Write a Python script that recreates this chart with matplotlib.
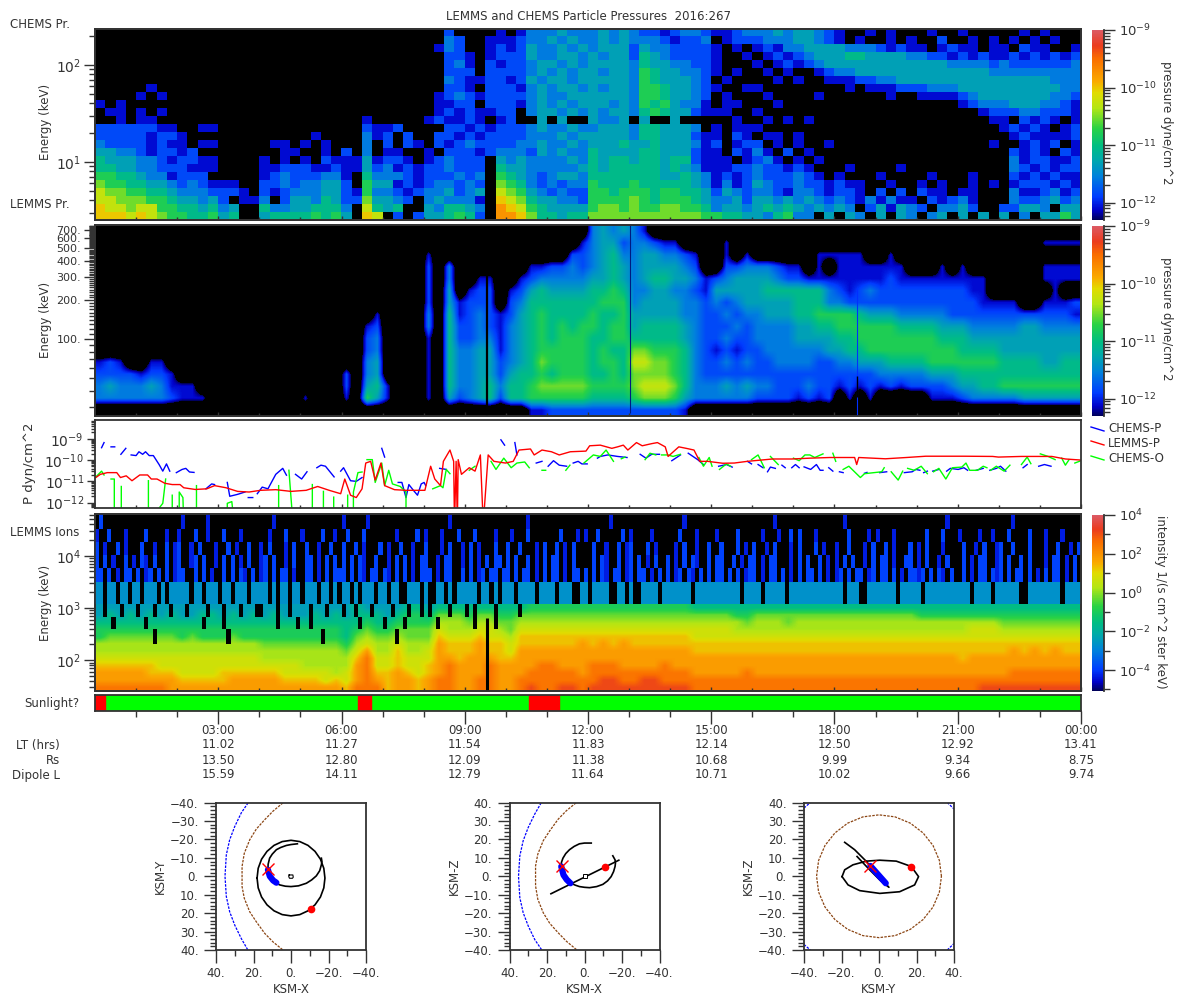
import numpy as np
import matplotlib
matplotlib.use("Agg")
import matplotlib.pyplot as plt
from matplotlib.cm import ScalarMappable
from matplotlib.colors import LinearSegmentedColormap, LogNorm, Normalize
from matplotlib.lines import Line2D
from matplotlib.ticker import FixedLocator, LogFormatterMathtext, LogLocator, NullFormatter

nan = float("nan")

# CHEMS pressure, digit levels, four columns per hour, rows from high energy to low
chems_rows = [
    "0000 0000 0000 0000 0000 0000 0000 0000 0020 0001 0133 3433 3434 3221 2332 1123 3343 4432 1001 0100 0100 1000 0010 1000",
    "0000 0000 0000 0000 0000 0000 0000 0000 0032 0011 1233 4343 3434 3332 1223 0122 2333 4432 1010 0101 0020 0101 0101 0100",
    "0000 0000 0000 0000 0000 0000 0000 0000 0132 0012 1243 3434 3444 2433 2222 1010 1213 3444 4333 2121 1012 1101 1021 1001",
    "0000 0000 0000 0000 0000 0000 0000 0000 0022 1012 2243 3443 4344 2543 2222 1001 0121 2344 4554 4443 3221 2121 1212 1212",
    "0000 0000 0000 0000 0000 0000 0000 0000 0023 1021 2234 4343 4444 3544 3322 1000 1012 1234 4444 4444 4443 3332 3222 2223",
    "0000 0000 0000 0000 0000 0000 0000 0000 0022 2022 2234 3434 4344 3654 4332 1010 0101 0012 3344 4444 4444 4443 3333 3333",
    "0000 0000 0000 0000 0000 0000 0000 0000 0032 1122 1243 4434 4444 3654 4432 0100 0010 1001 1122 3344 4444 4444 4444 4333",
    "0000 0100 0000 0000 0000 0000 0000 0000 0022 1022 2134 3443 4344 3665 4432 1001 1000 0000 0101 1122 2333 4444 4444 4433",
    "0000 1010 0000 0000 0000 0000 0000 0000 0123 2122 2234 3344 4444 3665 4432 0100 0100 0010 0000 0100 1111 2344 4444 4332",
    "1010 0000 0000 0000 0000 0000 0000 0000 0112 2022 2134 3434 4434 3656 4331 0110 0010 0000 0000 0000 0000 1233 3444 3321",
    "0110 1010 0000 0000 0000 0000 0000 0000 0121 2112 2034 4343 4344 3565 4421 1100 1000 0000 0000 0000 0000 0012 2233 2221",
    "0010 1100 0000 0000 0000 0000 0010 0000 1211 2101 2004 0400 4334 0400 4000 0010 0101 0100 0000 0000 0000 0001 1021 2101",
    "2222 2211 0011 0000 0000 0000 0021 1200 0022 1212 2234 3343 3444 3554 4430 1011 1000 0000 0000 0000 0000 0000 1212 1012",
    "2222 2122 1000 0000 0000 0100 0031 2020 0221 2122 2233 3434 4444 3554 4421 1021 0110 1000 0000 0000 0000 0000 0121 1112",
    "3222 2121 1011 0000 0110 1010 0030 2021 0212 3222 2334 3343 4445 4454 4431 2012 2010 1001 0000 0000 0000 0001 0012 1201",
    "4433 2122 1200 0000 0011 0010 2030 1100 1022 2123 3324 3433 5444 4554 4421 1021 3102 0100 0000 0000 0000 0000 0212 1021",
    "5444 3321 2211 0000 1010 1021 1141 2210 1232 2204 3433 3343 5455 4554 5521 1101 2310 1010 0000 0000 0000 0000 0312 2112",
    "5544 3322 2111 0000 1122 2112 1142 3121 2232 2205 4433 3334 5455 5554 5431 1122 3221 2100 0100 0010 0000 0000 0321 2122",
    "6655 4331 2220 0000 1232 2233 1053 3321 2223 2306 5432 3443 5555 5554 4543 1212 3222 3210 1000 1000 0100 0100 0212 1211",
    "7665 5443 2321 1100 2232 3344 2064 4121 2332 3207 6532 3233 6555 6555 5543 1312 4322 3221 2110 0100 1010 0101 0122 2121",
    "8776 6554 3332 2210 2123 3344 2163 3212 3342 3408 7643 2322 6656 6656 6554 2432 3321 3321 2210 2020 2110 1100 0311 2312",
    "8877 7665 4434 2011 3024 4354 2274 4320 3433 3109 8754 4332 6666 7656 6654 3342 4434 3432 3213 1311 0212 3100 0322 3423",
    "9887 8866 5545 3400 5334 4555 3085 4500 4355 430a 9865 4444 6776 7667 7665 3443 4545 4343 4302 4143 2033 4200 2244 3044",
    "9998 9876 6556 4500 4555 5656 4098 0202 4456 520a a975 5455 7777 7777 7776 6554 4356 3304 0430 4043 0340 4040 4030 4464",
]

# LEMMS pressure, four columns per hour
lemms_rows = [
    "0000 0000 0000 0000 0000 0000 0000 0000 0000 0000 0000 0000 3434 3100 0000 0000 0000 0000 0000 0000 0000 0000 0000 0000",
    "0000 0000 0000 0000 0000 0000 0000 0000 0000 0000 0000 0001 3442 3321 1000 0100 0000 0000 0000 0000 0000 0000 0000 1111",
    "0000 0000 0000 0000 0000 0000 0000 0000 1000 0000 0000 0022 3453 3443 3210 0101 0000 0011 1110 0100 0000 0000 0000 0000",
    "0000 0000 0000 0000 0000 0000 0000 0000 2030 0000 0011 2232 3454 3444 4320 0223 3321 1010 1111 1110 0010 1000 0000 1111",
    "0000 0000 0000 0000 0000 0000 0000 0000 2030 0110 0123 3333 4454 3455 4431 2344 4432 2111 1111 1211 1111 1110 0000 1111",
    "0000 0000 0000 0000 0000 0000 0000 0000 2040 1220 1245 4444 5565 3344 3321 4444 4555 5553 2123 2222 2222 2110 0000 0100",
    "0000 0000 0000 0000 0000 0000 0000 0000 2041 2220 2355 5555 5666 3444 4332 3234 4444 5553 3222 2222 2222 2211 1100 1112",
    "0000 0000 0000 0000 0000 0000 0001 0000 3051 2321 2456 5555 6556 4444 4332 2323 3444 5566 6654 4433 3332 2222 2222 2221",
    "0000 0000 0000 0000 0000 0000 0012 0000 3052 2321 3456 5656 6566 4555 5432 2232 3333 4455 6666 6655 5544 4333 3344 3333",
    "0000 0000 0000 0000 0000 0000 0023 0000 1052 2331 3456 5666 5566 5555 5432 2322 3333 4444 5566 6666 6655 5444 4444 4444",
    "0000 0000 0000 0000 0000 0000 0023 0000 1053 3441 3456 6666 5655 7766 6532 1212 2333 3334 4556 6666 6666 5555 4444 4444",
    "1210 0110 0000 0000 0000 0000 0034 0000 1053 3442 3457 6666 5665 8877 6532 2323 2233 3322 3344 4555 5666 6666 5555 4455",
    "2222 1221 0000 0000 0000 0000 2034 0000 1053 3442 4556 5666 5565 7777 6532 2222 2222 2222 2222 3333 3444 5555 5555 5555",
    "3433 3431 1100 0000 0000 0000 2045 1000 1053 3453 5567 7777 6666 7888 7533 3434 3322 2322 1212 1212 2223 4455 6666 6666",
    "3333 3332 1110 0000 0000 1000 1064 1000 1042 3452 5566 6666 5555 6777 6433 3333 2222 1212 0101 0000 0111 2333 3344 4444",
    "0000 0000 0000 0000 0000 0000 0000 0000 0000 0000 0011 2222 2222 2222 2100 0000 0000 0000 0000 0000 0000 0000 0000 0000",
]

# LEMMS ions below 1 MeV, four columns per hour
ion_rows = [
    "1111 1111 1111 1111 1111 1111 1211 1122 1222 2222 2233 3333 3333 3333 3322 2222 2222 2222 2222 2222 2222 2222 2222 2222",
    "1212 1212 1122 1212 1211 1212 1222 1233 2444 3443 3444 4444 4444 4444 4444 4433 4444 4444 4444 4444 3333 3333 3333 3333",
    "2222 2222 2222 2222 2222 2222 2232 2333 3555 4554 4555 5555 5555 5555 5555 5554 5554 5555 5555 5555 5555 5555 4444 4444",
    "3333 3333 3333 3333 3333 3333 2343 3444 4655 5665 4666 6666 6666 6666 6666 6655 5555 5555 5555 5555 5555 5666 5555 5555",
    "3444 4444 3433 3433 3333 3333 2454 4544 4766 6766 5777 7777 7777 7777 7766 6666 6666 6666 6666 6666 6666 6666 6666 6666",
    "5555 5555 5555 5555 4444 4444 3565 5655 5877 7877 6777 7778 7878 7777 7777 7777 7777 7777 7777 7777 7777 7777 7777 7777",
    "5555 5555 5555 5555 5555 5555 4685 5755 6877 7877 6888 8888 8888 8888 8877 7777 7777 7777 7777 7777 7777 7777 7878 7877",
    "6666 6666 6666 6666 5555 5555 5796 6766 6887 8887 7888 8888 8888 8888 8888 8888 8888 8888 8888 8888 8888 7888 8888 8888",
    "7777 7766 6666 6666 6666 5555 5896 6766 7898 8898 8889 9888 9998 8889 8888 8888 8888 8888 8888 8888 8888 8888 8888 8888",
    "8888 8777 6666 7777 7766 6665 6897 7876 7898 8898 8899 9998 9999 9999 9988 8889 8888 8888 8888 8888 8888 8888 8999 9999",
    "8888 8888 7777 7888 8877 7767 6898 7887 8998 8998 8999 9999 9aa9 9aa9 9999 9999 9999 9999 9999 9999 9999 9999 9999 9999",
    "9999 9998 8888 8888 8888 8888 7999 7887 8998 8998 89a9 9aa9 aaaa aaaa aa99 9999 9999 9999 9999 9999 9999 99aa aaaa aaaa",
]

# ion spikes above 1 MeV and black notches, ten columns per hour ('.' = nothing drawn)
spike_rows = [
    ".2........ .......... .1.....1.. .......... ...1...... .......... 1.....1... .......... ......1... .......... .....1.... .......... .....1.... .......... ...1...... .......... .....1.... .......... ..1....... .......... .......1.. .......... ...1...... ..........",
    "1..2...1.. ..2....1.. 1...2..1.. .2...1.... ..1...2... 1....2..1. .2...2.... ...1....2. 1...1...2. ..2....1.. .1...2.... ...2...1.1 ..2.....2. 1....1.... ..2...1... .1....2... ..1...1..2 .2...1.... ...2....1. 1...1..... ..2...2... 1....1..1. ..2....2.. .1...1....",
    "2.1..2.1.. .2..1..2.1 2..1.2...1 ..2.1..2.. 1.2...1.2. .2..1..2.. 2..2.1...2 .1..2..1.. 2...1.2..1 .2.1...2.. 2..2...1.2 ..2.1.2... .2..1..2.1 2...2.1... .1.2..1..2 ..2...2.1. 2..1.2...1 .2...2.1.. 1..2...1.2 ..2.1...2. 1.2...1... .2..1.2..1 2..2...2.. .1..2..1.2",
    "2.2.1..2.1 .21.2..2.1 2..12.2..1 .2.2.1.2.. 12.2..1.2. .22.1.2.2. 2.2.21..2. .1.2.2.1.2 2..1.22..1 .2.1.2.22. 2.2..2.1.2 .22.1.2... .2.21..2.1 2.2.1.2..2 .1.2.21..2 .22..2.1.2 2.1.22...1 .2.2..2.1. 1.2.2..1.2 .22.1..22. 1.2..1.2.. .2.1.22..1 2.2..2.2.. .1.22.1.2.",
    "22.2.1.22. 2.12.2.2.1 22..2.2.1. .2.2.21.2. 12.2.22.1. .22.1.2.22 2.2.21.22. 21.2.2.1.2 22.1.22..2 .2.12.22.2 2.2.22.1.2 .22.1.22.2 .2.21.22.1 2.22.1.2.2 .12.21.2.2 .22.2.2.12 2.1.22.2.1 .2.22.2.1. 12.2.22.12 .22.2.1.22 12.2.21.2. .2.1.22.21 2.2.22.2.1 .2.22.1.2.",
    "33.33.33.3 3.333.3.33 333.33.333 .33.333.33 33.3.33.33 .333.33.3. 33.3.333.3 3.33..333. 3..33.3.33 333.33.3.3 33.3333.33 33.333..33 .3333..33. 3..3333.33 33333.3333 3333333.33 33.33333.3 3333333333 33.333..33 33333.3333 3.33333333 333.3333.3 33333..333 33333.3333",
    "..0...0... 0...0...0. ..0....0.. .0...0...0 0...0..0.. ..0...0... 0..0...0.. ..0...0..0 .0....0... 0.0....0.. ...0...... .......... .......... .......... .......... .......... .......... .......... .......... .......... .......... .......... .......... ..........",
    "....0..... ..0....... ......0... .0........ ....0....0 ..0....... ....0..... 0....0.... ...0...... ..0....0.. .......... .......... .......... .......... .......... .......... .......... .......... .......... .......... .......... .......... .......... ..........",
    ".......... ....0..... .......... ..0....... .......... .....0.... .......... ...0...... .......... .......... .......... .......... .......... .......... .......... .......... .......... .......... .......... .......... .......... .......... .......... ..........",
]
spike_edges_kev = [200, 390, 660, 1170, 3200, 5900, 10400, 18500, 32000, 63000]

chems_levels = [-13, -12.09, -11.83, -11.57, -11.31, -11.05, -10.79, -10.53, -10.27, -10.01, -9.75]
ion_levels = [-9, -2.4, -1.6, -1.0, -0.3, 0.2, 0.7, 1.3, 1.8, 2.5, 3.1]
spike_levels = [-99, -4.3, -3.9, -2.7]

# particle pressures, hours and log10 dyn/cm^2
red_hours = [0.02, 0.13, 0.30, 0.53, 0.62, 0.76, 0.90, 1.09, 1.28, 1.37, 1.51, 1.70, 1.88, 2.07, 2.16, 2.44, 2.72,
             2.91, 3.19, 3.47, 3.75, 4.03, 4.40, 4.77, 5.14, 5.42, 5.70, 5.98, 6.08, 6.22, 6.36, 6.50, 6.59, 6.71,
             6.82, 6.96, 7.05, 7.29, 7.57, 7.80, 8.03, 8.17, 8.27, 8.41, 8.48, 8.64, 8.73, 8.75, 8.79, 8.82, 8.84,
             8.92, 9.11, 9.25, 9.38, 9.45, 9.57, 9.71, 9.99, 10.18, 10.32, 10.60, 10.69, 10.88, 11.11, 11.30, 11.57,
             11.95, 12.04, 12.30, 12.58, 12.72, 12.86, 12.97, 13.18, 13.32, 13.55, 13.69, 13.88, 13.95, 14.21, 14.39,
             14.58, 14.72, 14.91, 15.28, 15.56, 15.88, 16.49, 16.96, 17.42, 17.89, 18.49, 18.54, 18.59, 19.24, 19.75,
             20.22, 21.15, 21.85, 21.99, 22.55, 23.29, 23.62, 24.0]
red_logp = [-10.82, -10.67, -10.59, -10.59, -10.82, -10.74, -10.97, -10.70, -10.70, -10.89, -10.89, -11.09, -11.15,
            -11.15, -11.30, -11.38, -11.35, -11.20, -11.30, -11.47, -11.50, -11.42, -11.39, -11.47, -11.42, -11.24,
            -11.42, -11.58, -10.89, -11.65, -11.76, -11.35, -10.14, -10.06, -10.94, -10.14, -11.20, -11.39, -11.42,
            -11.42, -11.42, -10.29, -10.89, -11.20, -10.06, -9.53, -10.06, -13, -10.06, -13, -9.98, -10.67, -10.36,
            -10.52, -9.76, -13, -9.76, -10.06, -10.14, -10.06, -9.53, -9.48, -9.76, -9.53, -9.61, -9.76, -9.61, -9.58,
            -9.33, -9.30, -9.45, -9.38, -9.30, -9.53, -9.18, -9.33, -9.23, -9.18, -9.38, -9.83, -9.38, -9.45, -9.53,
            -10.06, -10.06, -10.15, -10.14, -10.06, -9.95, -9.95, -9.91, -9.88, -9.88, -10.21, -9.88, -9.94, -9.88,
            -9.82, -9.82, -9.83, -9.86, -9.83, -9.83, -9.95, -10.0]

blue_hours = [0.16, 0.22, nan, 0.39, 0.48, nan, 0.63, 0.75, nan, 0.88, 1.0, 1.07, 1.16, 1.23, 1.32, 1.42, 1.56, 1.65,
              1.74, 1.82, nan, 1.98, 2.12, 2.21, 2.30, 2.41, nan, 2.70, 2.84, 2.91, nan, 3.22, 3.28, 3.47, 3.65, nan,
              3.73, 3.84, nan, 3.95, 4.07, 4.21, 4.40, 4.57, 4.66, nan, 4.88, 5.03, 5.16, nan, 5.40, 5.50, 5.61, 5.82,
              nan, 5.98, 6.05, 6.22, 6.36, 6.50, nan, 6.98, 7.05, nan, 7.38, 7.47, 7.57, 7.64, 7.75, 7.85, 7.94, 8.01,
              8.05, nan, 8.39, 8.55, nan, 9.88, 9.97, nan, 10.22, 10.27, nan, 10.74, 10.88, nan, 11.03, 11.16, 11.30,
              11.48, nan, 11.64, 11.76, 11.85, 11.98, nan, 12.23, 12.30, 12.48, 12.72, 12.95, nan, 13.27, 13.41, 13.55,
              13.74, nan, 14.04, 14.25, nan, 14.44, 14.67, 14.81, nan, 15.18, 15.37, 15.51, nan, 15.88, 15.98, nan,
              16.14, 16.26, nan, 16.37, 16.44, 16.56, nan, 16.72, 16.80, nan, 16.96, 17.05, 17.14, nan, 17.26, 17.42,
              17.56, 17.65, 17.72, nan, 17.86, 17.96, nan, 18.12, 18.21, nan, 18.73, 18.79, nan, 19.10, 19.27, nan,
              19.70, 19.89, 19.98, 20.08, nan, 20.17, 20.26, nan, 20.39, 20.54, nan, 20.73, 20.82, 21.01, 21.15, 21.24,
              nan, 21.45, 21.62, nan, 21.78, 21.94, 22.04, 22.17, nan, 22.59, 22.69, nan, 22.97, 23.11, 23.27]
blue_logp = [-9.42, -9.18, nan, -9.38, -9.38, nan, -9.73, -9.45, nan, -9.76, -9.79, -9.61, -9.73, -9.61, -9.79, -9.79,
             -10.21, -10.52, -10.18, -10.52, nan, -10.59, -10.44, -10.39, -10.56, -10.58, nan, -11.35, -11.12, -11.15,
             nan, -11.05, -11.70, -11.61, -11.50, nan, -11.76, -11.76, nan, -11.58, -11.27, -11.35, -10.67, -10.39,
             -10.71, nan, -10.67, -10.89, -10.55, nan, -10.36, -10.24, -10.29, -10.79, nan, -10.52, -10.36, -10.97,
             -11.0, -10.82, nan, -9.45, -9.86, nan, -11.05, -11.05, -11.76, -11.15, -11.42, -11.65, -11.12, -11.05,
             -11.20, nan, -10.39, -10.44, nan, -9.05, -9.30, nan, -9.18, -9.76, nan, -10.14, -10.06, nan, -10.29,
             -10.03, -10.24, -10.29, nan, -10.14, -10.06, -10.18, -10.18, nan, -9.91, -9.83, -9.76, -9.83, -9.88, nan,
             -9.73, -9.91, -9.73, -9.73, nan, -10.03, -9.76, nan, -9.68, -9.98, -10.21, nan, -10.29, -10.21, -10.33,
             nan, -10.06, -10.18, nan, -10.21, -10.36, nan, -10.55, -10.33, -10.39, nan, -10.24, -10.36, nan, -10.36,
             -10.21, -10.36, nan, -10.32, -10.44, -10.21, -10.48, -10.48, nan, -10.36, -10.52, nan, -10.55, -10.59,
             nan, -10.62, -10.58, nan, -10.59, -10.55, nan, -10.59, -10.55, -10.44, -10.48, nan, -10.59, -10.52, nan,
             -10.52, -10.44, nan, -10.52, -10.39, -10.44, -10.36, -10.48, nan, -10.48, -10.39, nan, -10.48, -10.39,
             -10.29, -10.52, nan, -10.36, -10.21, nan, -10.29, -10.21, -10.29]

green_hours = [0.02, 0.16, 0.22, nan, 0.39, 0.47, 0.47, nan, 0.64, 0.64, nan, 1.30, 1.30, nan, 1.57, 1.65, 1.72, nan,
               1.88, 1.88, nan, 2.05, 2.05, 2.14, 2.16, nan, 2.47, 2.47, nan, 3.22, 3.22, 3.33, 3.39, nan, 4.47, 4.47,
               nan, 4.72, 4.82, nan, 5.29, 5.29, nan, 5.56, 5.56, nan, 5.81, 5.81, nan, 6.15, 6.15, nan, 6.29, 6.29,
               6.40, 6.50, nan, 6.62, 6.75, 6.82, 6.98, 7.05, 7.15, 7.24, 7.43, 7.57, 7.57, nan, 8.22, 8.41, 8.47, 8.55,
               8.64, nan, 9.11, 9.25, nan, 9.64, 9.76, 9.95, 10.13, 10.27, 10.46, 10.57, nan, 10.88, 10.97, nan, 11.46,
               11.56, nan, 11.90, 12.13, 12.30, 12.44, 12.62, nan, 12.81, 12.90, nan, 13.39, 13.51, 13.65, nan, 13.79,
               13.95, 14.07, 14.25, nan, 14.70, 14.81, 14.95, 15.02, nan, 15.20, 15.37, 15.47, nan, 15.98, 16.14, 16.29,
               nan, 16.44, 16.63, nan, 17.0, 17.14, 17.28, 17.40, 17.52, 17.72, nan, 17.96, 18.03, nan, 18.21, 18.35,
               18.63, 18.73, 19.15, 19.21, nan, 19.38, 19.55, 19.66, nan, 19.78, 19.94, 20.11, 20.26, nan, 20.41, 20.54,
               20.71, 20.87, 21.10, 21.20, 21.29, 21.48, 21.62, 21.71, nan, 21.80, 21.94, 22.13, 22.27, nan, 22.55,
               22.69, 22.78, nan, 23.01, 23.20, 23.37, nan, 23.53, 23.62, 23.71, nan, 23.85, 24.0]
green_logp = [-10.79, -10.52, -10.70, nan, -10.89, -10.89, -13, nan, -11.24, -13, nan, -10.97, -13, nan, -12.23, -12.03,
              -10.89, nan, -11.65, -13, nan, -13, -11.50, -11.76, -13, nan, -11.20, -13, nan, -13, -12.03, -11.95, -13,
              nan, -11.20, -13, nan, -10.48, -13, nan, -11.15, -13, nan, -11.47, -13, nan, -11.74, -13, nan, -11.65,
              -13, nan, -13, -11.50, -10.59, -10.56, nan, -9.98, -9.98, -11.05, -10.14, -11.20, -10.48, -11.12, -11.24,
              -11.50, -13, nan, -11.35, -11.20, -11.30, -10.44, -10.64, nan, -10.48, -10.29, nan, -10.06, -10.44, -9.91,
              -10.36, -10.14, -10.09, -10.36, nan, -10.48, -10.48, nan, -10.48, -10.24, nan, -10.14, -9.76, -9.83,
              -9.53, -10.06, nan, -9.94, -9.86, nan, -9.98, -9.68, -9.76, nan, -9.76, -9.76, -9.83, -9.73, nan, -9.88,
              -10.29, -9.88, -10.29, nan, -10.44, -10.18, -10.29, nan, -9.98, -9.76, -10.36, nan, -9.83, -10.21, nan,
              -9.91, -10.03, -9.76, -9.76, -9.88, -9.71, nan, -9.68, -10.06, nan, -10.44, -10.29, -10.82, -10.64,
              -10.55, -10.36, nan, -10.55, -10.94, -10.52, nan, -10.39, -10.48, -10.29, -10.64, nan, -10.55, -10.39,
              -10.89, -10.36, -10.33, -10.14, -10.48, -10.48, -10.29, -10.36, nan, -10.48, -10.29, -10.52, -10.24, nan,
              -10.21, -9.86, -10.17, nan, -9.71, -9.83, -9.98, nan, -9.91, -10.24, -9.98, nan, -10.14, -10.03]

# sunlight bar: eclipse intervals in hours
eclipse_start = [0.0, 6.40, 10.57]
eclipse_end = [0.24, 6.72, 11.30]

time_labels = ["03:00", "06:00", "09:00", "12:00", "15:00", "18:00", "21:00", "00:00"]
time_hours = [3, 6, 9, 12, 15, 18, 21, 24]
lt_values = ["11.02", "11.27", "11.54", "11.83", "12.14", "12.50", "12.92", "13.41"]
rs_values = ["13.50", "12.80", "12.09", "11.38", "10.68", "9.99", "9.34", "8.75"]
dipole_values = ["15.59", "14.11", "12.79", "11.64", "10.71", "10.02", "9.66", "9.74"]

# orbit projections, Rs
bow_shock_a = [22.9, 26.5, 30.0, 32.7, 34.5, 35.2, 34.5, 32.7, 30.0, 26.5, 22.9]
bow_shock_b = [-39.8, -34.4, -27.0, -19.8, -11.6, 0, 11.0, 19.3, 26.5, 33.8, 40.2]
magnetopause_a = [4.3, 9.6, 14.0, 18.5, 22.0, 24.9, 26.1, 26.1, 26.1, 24.9, 22.0, 18.5, 14.0, 9.6, 4.3]
magnetopause_b = [-39.8, -35.3, -30.7, -25.6, -19.8, -12.5, -5.3, 0, 5.6, 12.0, 19.3, 24.7, 31.0, 35.6, 40.0]

outer_x = [18.1, 17.5, 15.7, 12.8, 9.05, 4.7, 0, -4.7, -9.05, -12.8, -15.7, -17.5, -18.1, -17.5, -15.7, -12.8, -9.05,
           -4.7, 0, 4.7, 9.05, 12.8, 15.7, 17.5, 18.1]
outer_y = [1.0, 6.3, 11.25, 15.5, 18.75, 20.8, 21.5, 20.8, 18.75, 15.5, 11.25, 6.3, 1.0, -4.3, -9.25, -13.5, -16.75,
           -18.8, -19.5, -18.8, -16.75, -13.5, -9.25, -4.3, 1.0]
inner_x = [-3.4, 0, 2.5, 5.5, 7.8, 10.0, 11.4, 12.2, 12.3, 11.8, 11.0, 9.0, 6.0, 3.0, 0, -4.0, -8.2, -11.0, -13.5,
           -15.3, -16.2, -16.5, -16.2]
inner_y = [-17.6, -17.2, -16.7, -15.6, -14.4, -12.0, -9.8, -6.5, -3.5, -1.0, 1.1, 3.2, 4.7, 5.4, 5.6, 5.2, 3.8, 2.0,
           -0.2, -3.0, -6.2, -8.0, -9.8]
core_x = [1.0, -1.0, -1.2, -0.8, 0.8, 1.2, 1.0]
core_y = [-0.7, -0.7, 0.5, 1.1, 1.1, 0.2, -0.7]
track_xy_x = [12.3, 11.3, 9.5, 7.8]
track_xy_y = [-3.5, 0.0, 2.3, 3.5]

xz_arc_x = [-3.6, 0, 2.7, 5.5, 8.0, 10.0, 11.5, 12.3, 12.4, 12.1, 11.2, 9.5, 7.1, 5.0, 2.7, 0, -2.7, -6.5, -9.8, -12.3,
            -14.2, -15.5, -16.3, -16.5, -16.3, -15.1]
xz_arc_z = [18.0, 18.0, 17.6, 16.2, 14.4, 12.3, 9.8, 7.5, 5.3, 3.0, 0.7, -1.8, -3.8, -4.8, -5.6, -6.0, -6.2, -5.6, -4.4,
            -2.5, -0.2, 2.5, 5.3, 7.0, 8.9, 11.1]
xz_line_x = [17.9, -18.3]
xz_line_z = [-9.5, 8.7]
track_xz_x = [12.4, 11.2, 9.5, 7.5]
track_xz_z = [5.3, 0.7, -1.8, -3.8]

yz_ring_y = [-19.7, -18.3, -13.9, -6.7, 0.4, 9.2, 17.2, 21.1, 19.0, 11.0, 0.4, -10.3, -16.5, -19.7]
yz_ring_z = [-0.2, 3.5, 6.2, 8.2, 8.7, 8.2, 5.3, -0.2, -4.7, -8.4, -9.3, -7.8, -4.7, -0.2]
yz_loop_y = [-18.3, -13.0, -6.7, -1.4, 5.3, 0.4, -5.0, -11.7]
yz_loop_z = [18.4, 14.4, 8.0, 1.6, -6.0, -2.0, 3.5, 10.7]
track_yz_y = [-4.6, 3.6]
track_yz_z = [5.6, -3.8]
yz_circle_y = [33.3, 32.2, 28.8, 23.5, 16.7, 8.6, 0, -8.6, -16.7, -23.5, -28.8, -32.2, -33.3, -32.2, -28.8, -23.5,
               -16.7, -8.6, 0, 8.6, 16.7, 23.5, 28.8, 32.2, 33.3]
yz_circle_z = [0, 8.6, 16.7, 23.5, 28.8, 32.2, 33.3, 32.2, 28.8, 23.5, 16.7, 8.6, 0, -8.6, -16.7, -23.5, -28.8, -32.2,
               -33.3, -32.2, -28.8, -23.5, -16.7, -8.6, 0]
yz_corner_y = [-40, -36.6, nan, 36.4, 40, nan, -40, -36.6, nan, 36.4, 40]
yz_corner_z = [37, 40, nan, 40, 36.5, nan, -37, -40, nan, -40, -36.5]

TEXT = "#333333"
W, H = 1200, 1000

plt.rcParams["font.family"] = "DejaVu Sans"
plt.rcParams["font.size"] = 8.5
plt.rcParams["text.color"] = TEXT
plt.rcParams["axes.labelcolor"] = TEXT
plt.rcParams["axes.edgecolor"] = TEXT
plt.rcParams["axes.linewidth"] = 1.3
plt.rcParams["xtick.color"] = TEXT
plt.rcParams["ytick.color"] = TEXT
plt.rcParams["xtick.labelcolor"] = TEXT
plt.rcParams["ytick.labelcolor"] = TEXT

stops = [(0.0, (0, 0, 90)), (0.05, (0, 0, 200)), (0.12, (0, 60, 255)), (0.23, (0, 130, 220)), (0.32, (0, 170, 170)),
         (0.39, (0, 190, 130)), (0.48, (40, 210, 70)), (0.59, (180, 230, 20)), (0.67, (225, 220, 0)),
         (0.73, (250, 170, 0)), (0.85, (250, 110, 0)), (0.92, (235, 60, 30)), (1.0, (220, 90, 100))]
cmap = LinearSegmentedColormap.from_list("pressure", [(f, tuple(c / 255 for c in rgb)) for f, rgb in stops])
cmap.set_under("black")
cmap.set_bad((0, 0, 0, 0))

fig = plt.figure(figsize=(W / 100, H / 100), dpi=100)


def box(left, top, right, bottom):
    # axes rectangle from picture pixels
    return [left / W, 1 - bottom / H, (right - left) / W, (bottom - top) / H]


def label(x, y, text, **kw):
    fig.text(x / W, 1 - y / H, text, va=kw.pop("va", "center"), **kw)


def level_grid(rows, levels):
    out = []
    for row in rows:
        out.append([levels[int(ch, 16)] for ch in row.replace(" ", "")])
    return np.array(out, dtype=float)


def hour_ticks(ax, direction="in"):
    ax.set_xlim(0, 24)
    ax.xaxis.set_major_locator(FixedLocator([3, 6, 9, 12, 15, 18, 21, 24]))
    ax.xaxis.set_minor_locator(FixedLocator(range(1, 24)))
    ax.xaxis.set_major_formatter(NullFormatter())
    ax.tick_params(axis="x", which="major", direction=direction, length=6 if direction == "out" else 3, width=1)
    ax.tick_params(axis="x", which="minor", direction=direction, length=3 if direction == "out" else 2, width=1)


def draw_panel(top, bottom, grid, grid_log, full_log, norm, interp):
    ax = fig.add_axes(box(95, top, 1081, bottom))
    ax.set_facecolor("black")
    ax.imshow(grid, extent=[0, 24, grid_log[0], grid_log[1]], aspect="auto", cmap=cmap, norm=norm,
              interpolation=interp, interpolation_stage="data")
    ax.set_ylim(*full_log)
    ax.set_yticks([])
    hour_ticks(ax)
    energy = ax.twinx()
    energy.set_yscale("log")
    energy.set_ylim(10 ** full_log[0], 10 ** full_log[1])
    energy.yaxis.tick_left()
    energy.yaxis.set_major_formatter(LogFormatterMathtext())
    energy.yaxis.set_minor_locator(LogLocator(subs=range(2, 10), numticks=12))
    energy.yaxis.set_minor_formatter(NullFormatter())
    energy.tick_params(axis="y", which="major", length=8, width=1, labelsize=10, pad=2)
    energy.tick_params(axis="y", which="minor", length=4, width=1)
    return ax, energy


def colorbar(top, bottom, low, high, text, text_x, text_y, major=None, minor=None):
    cax = fig.add_axes(box(1092, top, 1104, bottom))
    cb = fig.colorbar(ScalarMappable(LogNorm(10 ** low, 10 ** high), cmap), cax=cax)
    cb.outline.set_visible(False)
    cax.spines["right"].set_visible(True)
    if major is not None:
        cb.set_ticks(major)
    cax.yaxis.set_major_formatter(LogFormatterMathtext())
    if minor is not None:
        cax.yaxis.set_ticks(minor, minor=True)
    else:
        cax.yaxis.set_minor_locator(LogLocator(subs=range(2, 10), numticks=12))
    cax.yaxis.set_minor_formatter(NullFormatter())
    cax.tick_params(axis="y", which="major", length=8, width=1, labelsize=9.5, pad=3)
    cax.tick_params(axis="y", which="minor", length=4, width=1)
    label(text_x, text_y, text, rotation=-90, ha="center", fontsize=8.5)


pressure_norm = Normalize(-12.3, -9)
ion_norm = Normalize(-5.08, 4)

# CHEMS panel
ax1, e1 = draw_panel(29, 220, level_grid(chems_rows, chems_levels), (0.40, 2.37), (0.40, 2.37), pressure_norm, "nearest")
colorbar(30, 220, -12.3, -9, "pressure dyne/cm^2", 1167, 123)

# LEMMS panel
ax2, e2 = draw_panel(225, 416, level_grid(lemms_rows, chems_levels), (1.406, 2.88), (1.406, 2.88), pressure_norm, "bilinear")
e2.vlines(9.53, 25.5, 330, color="black", lw=1.6)
e2.vlines(13.03, 27, 759, color="#001a80", lw=0.8)
e2.vlines(18.55, 25.5, 250, color="#0030ff", lw=0.8)
e2.vlines(18.55, 36, 52, color="black", lw=1.0)
e2.yaxis.set_major_locator(FixedLocator([100, 200, 300, 400, 500, 600, 700]))
e2.yaxis.set_major_formatter(lambda v, pos: "%d." % v)
e2.yaxis.set_minor_locator(FixedLocator(list(range(30, 100, 10)) + list(range(110, 760, 10))))
e2.tick_params(axis="y", which="major", labelsize=8)
colorbar(226, 416, -12.3, -9, "pressure dyne/cm^2", 1167, 319)

# pressure lines
ax3 = fig.add_axes(box(95, 420, 1081, 508))
ax3.set_yscale("log")
ax3.set_ylim(10 ** -12.25, 10 ** -8.12)
ax3.plot(blue_hours, 10 ** np.array(blue_logp), color="#0000ff", lw=1)
ax3.plot(green_hours, 10 ** np.array(green_logp), color="#00ff00", lw=1)
ax3.plot(red_hours, 10 ** np.array(red_logp), color="#ff0000", lw=1)
hour_ticks(ax3)
ax3.yaxis.set_major_locator(FixedLocator([1e-12, 1e-11, 1e-10, 1e-9]))
ax3.yaxis.set_major_formatter(LogFormatterMathtext())
ax3.yaxis.set_minor_locator(LogLocator(subs=range(2, 10), numticks=12))
ax3.yaxis.set_minor_formatter(NullFormatter())
ax3.tick_params(axis="y", which="major", length=6, width=1, labelsize=10, pad=2)
ax3.tick_params(axis="y", which="minor", length=3, width=1)

for y0, color, name in zip([427, 441, 456], ["#0000ff", "#ff0000", "#00ff00"], ["CHEMS-P", "LEMMS-P", "CHEMS-O"]):
    fig.add_artist(Line2D([1091 / W, 1104 / W], [1 - y0 / H, 1 - (y0 + 4) / H], color=color, lw=1,
                          transform=fig.transFigure))
    label(1108, y0 + 2, name, fontsize=8.5)

# LEMMS ions
ax4, e4 = draw_panel(514, 691, level_grid(ion_rows, ion_levels), (1.41, 3.07), (1.41, 4.8), ion_norm, "bilinear")
e4.yaxis.set_major_locator(FixedLocator([1e2, 1e3, 1e4]))
spike_grid = np.full((len(spike_rows), len(spike_rows[0].replace(" ", ""))), np.nan)
for i, row in enumerate(spike_rows):
    for j, ch in enumerate(row.replace(" ", "")):
        if ch != ".":
            spike_grid[len(spike_rows) - 1 - i, j] = spike_levels[int(ch)]
e4.pcolormesh(np.linspace(0, 24, spike_grid.shape[1] + 1), spike_edges_kev, np.ma.masked_invalid(spike_grid),
              cmap=cmap, norm=ion_norm)
e4.vlines(9.53, 10 ** 1.41, 630, color="black", lw=2.2)
colorbar(515, 691, -5.08, 4, "intensity 1/(s cm^2 ster keV)", 1160, 602,
         major=[1e4, 1e2, 1, 1e-2, 1e-4], minor=[1e3, 1e1, 1e-1, 1e-3, 1e-5])

# sunlight bar
ax5 = fig.add_axes(box(95, 695, 1081, 711))
ax5.set_facecolor("#00ff00")
ax5.broken_barh([(s, e - s) for s, e in zip(eclipse_start, eclipse_end)], (0, 1), color="#ff0000")
ax5.set_ylim(0, 1)
ax5.set_yticks([])
hour_ticks(ax5, "out")
ax5.tick_params(axis="x", which="major", length=9)
ax5.tick_params(axis="x", which="minor", length=4)

label(10, 24, "CHEMS Pr.")
label(10, 205, "LEMMS Pr.")
label(10, 533, "LEMMS Ions")
label(588, 16, "LEMMS and CHEMS Particle Pressures  2016:267", ha="center")
label(46, 122, "Energy (keV)", rotation=90, ha="center")
label(46, 320, "Energy (keV)", rotation=90, ha="center")
label(30, 463, "P dyn/cm^2", rotation=90, ha="center", fontsize=9.5)
label(46, 603, "Energy (keV)", rotation=90, ha="center")
label(79, 703, "Sunlight?", ha="right")

for name, values, y in zip(["", "LT (hrs)", "Rs", "Dipole L"], [time_labels, lt_values, rs_values, dipole_values],
                           [730, 745, 760, 775]):
    label(60, y, name, ha="right")
    for hour, value in zip(time_hours, values):
        label(95 + hour * 41.08, y, value, ha="center")


def orbit_axes(left, right, x_ticks, y_ticks, x_name, y_name):
    ax = fig.add_axes(box(left, 802.5, right, 950))
    ax.set_xlim(x_ticks[0], x_ticks[-1])
    ax.set_ylim(y_ticks[-1], y_ticks[0])
    ax.set_xticks(x_ticks)
    ax.set_xticklabels(["%d." % v if v >= 0 else "\u2212%d." % -v for v in x_ticks])
    ax.set_xticks(range(-30, 31, 20), minor=True)
    ax.set_yticks(y_ticks)
    ax.set_yticklabels(["%d." % v if v >= 0 else "\u2212%d." % -v for v in y_ticks])
    ax.set_yticks([v for v in range(-40, 41, 2) if v % 10], minor=True)
    ax.tick_params(which="major", length=9, width=1)
    ax.tick_params(which="minor", length=4.5, width=1)
    ax.set_xlabel(x_name, labelpad=2)
    ax.set_ylabel(y_name, labelpad=2)
    return ax


def boundaries(ax, a, b, c, d):
    ax.plot(a, b, color="#0000ff", lw=0.9, ls=(0, (2, 1)))
    ax.plot(c, d, color="#8b4513", lw=0.9, ls=(0, (2, 1)))


# orbit X-Y
xy = orbit_axes(216, 366, [40, 20, 0, -20, -40], [-40, -30, -20, -10, 0, 10, 20, 30, 40], "KSM-X", "KSM-Y")
boundaries(xy, bow_shock_a, bow_shock_b, magnetopause_a, magnetopause_b)
xy.plot(outer_x, outer_y, color="black", lw=1.2)
xy.plot(inner_x, inner_y, color="black", lw=1.2)
xy.plot(core_x, core_y, color="black", lw=0.8)
xy.plot(track_xy_x, track_xy_y, color="#0000ff", lw=4.5, solid_capstyle="round")
xy.plot([12.1], [-3.7], marker="x", color="#ff0000", ms=8.5, mew=1)
xy.plot([-10.7], [17.5], marker="o", color="#ff0000", ms=4.5)

# orbit X-Z
xz = orbit_axes(509.5, 659.5, [40, 20, 0, -20, -40], [40, 30, 20, 10, 0, -10, -20, -30, -40], "KSM-X", "KSM-Z")
boundaries(xz, bow_shock_a, bow_shock_b, magnetopause_a, magnetopause_b)
xz.plot(xz_arc_x, xz_arc_z, color="black", lw=1.2)
xz.plot(xz_line_x, xz_line_z, color="black", lw=1.2)
xz.plot([0], [0], marker="s", mfc="white", mec="black", ms=3, mew=0.7)
xz.plot(track_xz_x, track_xz_z, color="#0000ff", lw=4.5, solid_capstyle="round")
xz.plot([12.1], [5.8], marker="x", color="#ff0000", ms=8.5, mew=1)
xz.plot([-10.8], [4.9], marker="o", color="#ff0000", ms=4.5)

# orbit Y-Z
yz = orbit_axes(804, 954, [-40, -20, 0, 20, 40], [40, 30, 20, 10, 0, -10, -20, -30, -40], "KSM-Y", "KSM-Z")
yz.plot(yz_corner_y, yz_corner_z, color="#0000ff", lw=0.9, ls=(0, (2, 1)))
yz.plot(yz_circle_y, yz_circle_z, color="#8b4513", lw=0.9, ls=(0, (2, 1)))
yz.plot(yz_ring_y, yz_ring_z, color="black", lw=1.2)
yz.plot(yz_loop_y, yz_loop_z, color="black", lw=1.2)
yz.plot(track_yz_y, track_yz_z, color="#0000ff", lw=4.5, solid_capstyle="round")
yz.plot([-4.6], [5.6], marker="x", color="#ff0000", ms=8.5, mew=1)
yz.plot([17.0], [4.9], marker="o", color="#ff0000", ms=4.5)

fig.savefig("out.png", dpi=100)
